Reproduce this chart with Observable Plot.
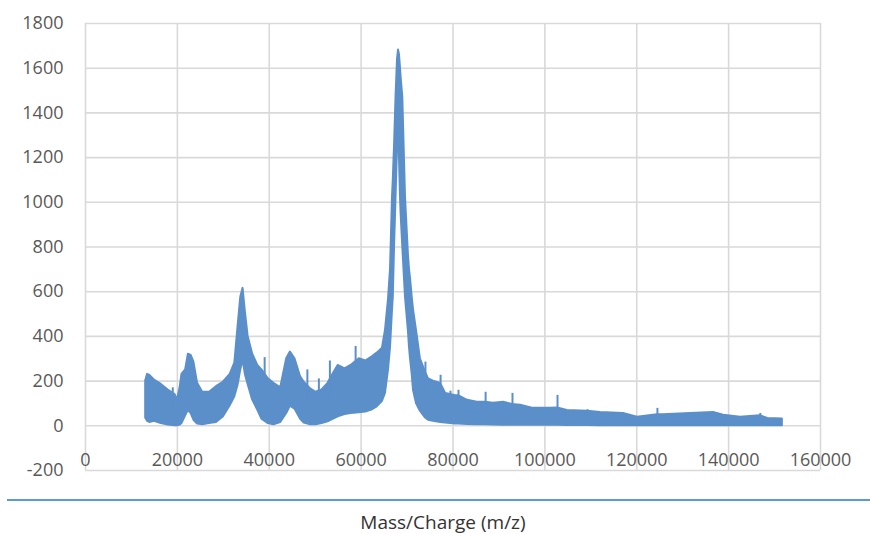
<!DOCTYPE html>
<html>
<head>
<meta charset="utf-8">
<script src="https://cdn.jsdelivr.net/npm/d3@7"></script>
<script src="https://cdn.jsdelivr.net/npm/@observablehq/plot@0.6"></script>
<style>
  html, body { margin: 0; padding: 0; background: #fff; }
  #wrap { position: relative; width: 870px; height: 534px; overflow: hidden; }
  #rule { position: absolute; left: 7px; top: 499px; width: 863px; height: 2px; background: #5b9bd5; }
  #caption { position: absolute; left: 0; width: 886px; top: 511px; height: 22px; line-height: 22px; text-align: center;
             font-family: "Open Sans", sans-serif; font-size: 19px; color: #333; }
</style>
</head>
<body>
<div id="wrap">
  <div id="chart"></div>
  <div id="rule"></div>
  <div id="caption">Mass/Charge (m/z)</div>
</div>
<script>
// Envelope of the spectrum band (m/z, lower edge, upper edge)
const mz = [13100, 13500, 14000, 15000, 16500, 18000, 19500, 20000, 20600, 21000, 21800, 22400, 23000, 23600, 24400, 25500, 27000, 28500, 30000, 31500, 32500, 33200, 33800, 34300, 34800, 35400, 36400, 37500, 38400, 39800, 41000, 42500, 43800, 44600, 45600, 46800, 47600, 49000, 50200, 51500, 52800, 54000, 55000, 56500, 57800, 59600, 61000, 62500, 63500, 64650, 65300, 65950, 66400, 66830, 67000, 67270, 67600, 67920, 68140, 68350, 68570, 68700, 69070, 69660, 70310, 70530, 70750, 71120, 71400, 72050, 72900, 74000, 74450, 74670, 75750, 77300, 78400, 79450, 80550, 81200, 83150, 85300, 87100, 88800, 91000, 92950, 94700, 97500, 101200, 102750, 104900, 109300, 112100, 117100, 120150, 124500, 125800, 131700, 136700, 138900, 142600, 146900, 148500, 151700];
const lowEnv = [35, 20, 15, 20, 10, 3, 0, 0, 3, 10, 45, 69, 55, 25, 8, 5, 10, 15, 40, 90, 130, 180, 250, 295, 230, 185, 115, 70, 30, 10, 5, 15, 55, 88, 75, 30, 12, 5, 5, 10, 18, 30, 40, 50, 55, 58, 62, 72, 85, 110, 145, 248, 351, 520, 575, 800, 1023, 1250, 1367, 1200, 1023, 950, 800, 575, 420, 351, 300, 230, 159, 100, 65, 35, 28, 25, 20, 15, 12, 10, 8, 8, 6, 5, 5, 4, 3, 3, 2, 2, 2, 2, 1, 1, 0, 0, 0, 0, 0, 0, 0, 0, 0, 0, 0, 0];
const highEnv = [200, 230, 225, 205, 185, 160, 140, 115, 170, 230, 250, 320, 315, 285, 190, 150, 150, 175, 195, 230, 280, 440, 575, 615, 510, 400, 320, 270, 250, 210, 190, 170, 300, 330, 300, 220, 195, 165, 150, 160, 190, 235, 270, 255, 270, 300, 290, 310, 325, 347, 427, 562, 700, 1023, 1100, 1250, 1471, 1640, 1681, 1660, 1600, 1560, 1471, 1023, 760, 700, 660, 575, 520, 427, 300, 240, 220, 210, 200, 190, 145, 140, 135, 135, 114, 105, 105, 101, 105, 95, 92, 78, 78, 80, 69, 65, 60, 55, 38, 50, 50, 55, 60, 47, 38, 45, 33, 30];

// Narrow spikes above the band (m/z, base inside the band, top)
const spikeMz = [19000, 39000, 48300, 50800, 53200, 58800, 74000, 77300, 79450, 81200, 87100, 92950, 102750, 109300, 124500, 146900];
const spikeBase = [80, 120, 100, 90, 120, 150, 150, 120, 80, 80, 60, 50, 40, 30, 25, 20];
const spikeTop = [170, 305, 250, 210, 290, 355, 285, 226, 155, 159, 150, 145, 136, 72, 78, 55];

// Axis ticks
const xTicks = [0, 20000, 40000, 60000, 80000, 100000, 120000, 140000, 160000];
const yTicks = [-200, 0, 200, 400, 600, 800, 1000, 1200, 1400, 1600, 1800];

const band = mz.map((m, i) => ({mz: m, lo: lowEnv[i], hi: highEnv[i]}));
const spikes = spikeMz.map((m, i) => ({mz: m, base: spikeBase[i], top: spikeTop[i]}));

const blue = "#5b8fca";
const grid = "#d9d9d9";
const labelColor = "#595959";

const chart = Plot.plot({
  width: 870,
  height: 480,
  marginTop: 23,
  marginBottom: 10,
  marginLeft: 85,
  marginRight: 50,
  style: {fontFamily: "'Open Sans', sans-serif", background: "#fff"},
  x: {domain: [0, 160000], axis: null},
  y: {domain: [-200, 1800], axis: null},
  marks: [
    Plot.gridX(xTicks, {stroke: grid, strokeOpacity: 1, strokeWidth: 1.6}),
    Plot.gridY(yTicks, {stroke: grid, strokeOpacity: 1, strokeWidth: 1.6}),
    Plot.areaY(band, {x: "mz", y1: "lo", y2: "hi", fill: blue, stroke: blue, strokeWidth: 2, strokeLinejoin: "round", curve: "linear"}),
    Plot.ruleX(spikes, {x: "mz", y1: "base", y2: "top", stroke: blue, strokeWidth: 2}),
    Plot.text(yTicks, {x: 0, y: d => d, text: d => String(d), textAnchor: "end", dx: -22, fontSize: 18, fill: labelColor}),
    Plot.text(xTicks, {x: d => d, y: 0, text: d => String(d), textAnchor: "middle", dy: 34, fontSize: 18, fill: labelColor})
  ]
});
document.getElementById("chart").appendChild(chart);
</script>
</body>
</html>
